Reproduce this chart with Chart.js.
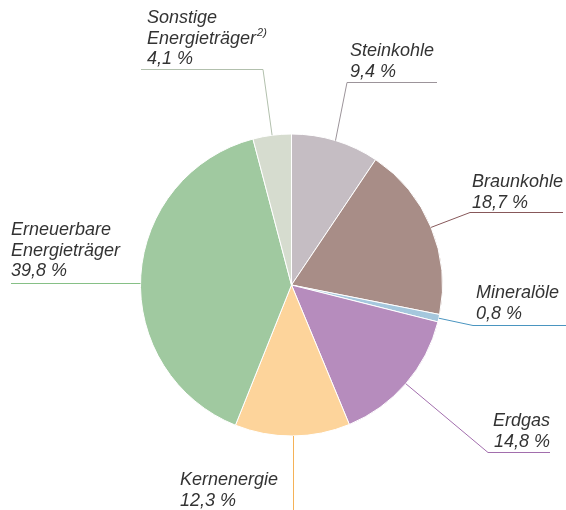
<!DOCTYPE html>
<html>
<head>
<meta charset="utf-8">
<script src="https://cdn.jsdelivr.net/npm/chart.js@4/dist/chart.umd.min.js"></script>
<style>
  html, body { margin: 0; padding: 0; background: #fff; }
  canvas { display: block; }
</style>
</head>
<body>
<canvas id="chart" width="566" height="510"></canvas>
<script>
// Anteile am Primärenergieverbrauch (Prozent)
const categories = ['Steinkohle', 'Braunkohle', 'Mineralöle', 'Erdgas', 'Kernenergie', 'Erneuerbare Energieträger', 'Sonstige Energieträger'];
const values = [9.4, 18.7, 0.8, 14.8, 12.3, 39.8, 4.1];
const sliceColors = ['#c5bdc3', '#a88d87', '#a5c7dd', '#b68cbd', '#fdd49b', '#a0c9a0', '#d6dccf'];
const lineColors = ['#9c949a', '#87585a', '#4a95c0', '#a26ead', '#f5b257', '#86c086', '#b2c0ad'];

// label text lines, anchor of text, leader elbow and end of horizontal part
const labelLines = [
  ['Steinkohle'],
  ['Braunkohle'],
  ['Mineralöle'],
  ['Erdgas'],
  ['Kernenergie'],
  ['Erneuerbare', 'Energieträger'],
  ['Sonstige', 'Energieträger']
];
const labelPos = [
  { x: 350, y: 56, align: 'left', elbow: [347, 82.5], end: [437, 82.5] },
  { x: 472, y: 187, align: 'left', elbow: [470, 212.5], end: [563, 212.5] },
  { x: 476, y: 298, align: 'left', elbow: [473, 325.5], end: [566, 325.5] },
  { x: 550, y: 426, align: 'right', elbow: [488, 452.5], end: [550, 452.5] },
  { x: 180, y: 485, align: 'left', elbow: [293.5, 510], end: null },
  { x: 11, y: 235, align: 'left', elbow: null, end: [11, 283.5] },
  { x: 147, y: 23, align: 'left', elbow: [263, 69.5], end: [141, 69.5] }
];

const fmt = v => v.toFixed(1).replace('.', ',') + ' %';

const leaderLabels = {
  id: 'leaderLabels',
  afterDraw(chart) {
    const ctx = chart.ctx;
    const arcs = chart.getDatasetMeta(0).data;
    ctx.save();
    arcs.forEach((arc, i) => {
      const p = labelPos[i];
      const mid = (arc.startAngle + arc.endAngle) / 2;
      const r = arc.outerRadius;
      let ax = arc.x + Math.cos(mid) * r;
      const ay = arc.y + Math.sin(mid) * r;
      if (i === 4) ax = p.elbow[0];

      ctx.strokeStyle = lineColors[i];
      ctx.lineWidth = 1;
      ctx.beginPath();
      if (p.elbow) {
        ctx.moveTo(ax, ay);
        ctx.lineTo(p.elbow[0], p.elbow[1]);
        if (p.end) ctx.lineTo(p.end[0], p.end[1]);
      } else {
        // horizontal line straight to the pie edge
        const dy = p.end[1] - arc.y;
        const ex = arc.x - Math.sqrt(r * r - dy * dy);
        ctx.moveTo(p.end[0], p.end[1]);
        ctx.lineTo(ex, p.end[1]);
      }
      ctx.stroke();

      ctx.fillStyle = '#333333';
      ctx.font = 'italic 18px "Liberation Sans", Arial, sans-serif';
      ctx.textAlign = p.align;
      ctx.textBaseline = 'alphabetic';
      const lines = labelLines[i].concat([fmt(values[i])]);
      lines.forEach((t, k) => {
        ctx.fillText(t, p.x, p.y + k * 20.5);
      });
      if (i === 6) {
        // Fußnote am Wort "Energieträger"
        const w = ctx.measureText(labelLines[i][1]).width;
        ctx.font = 'italic 11px "Liberation Sans", Arial, sans-serif';
        ctx.textAlign = 'left';
        ctx.fillText('2)', p.x + w + 1, p.y + 20.5 - 8);
      }
    });
    ctx.restore();
  }
};

new Chart(document.getElementById('chart'), {
  type: 'pie',
  data: {
    labels: categories,
    datasets: [{
      data: values,
      backgroundColor: sliceColors,
      borderColor: '#ffffff',
      borderWidth: 1
    }]
  },
  options: {
    responsive: false,
    animation: false,
    layout: { padding: { left: 140, right: 123, top: 133, bottom: 73 } },
    plugins: {
      legend: { display: false },
      tooltip: { enabled: false }
    }
  },
  plugins: [leaderLabels]
});
</script>
</body>
</html>
